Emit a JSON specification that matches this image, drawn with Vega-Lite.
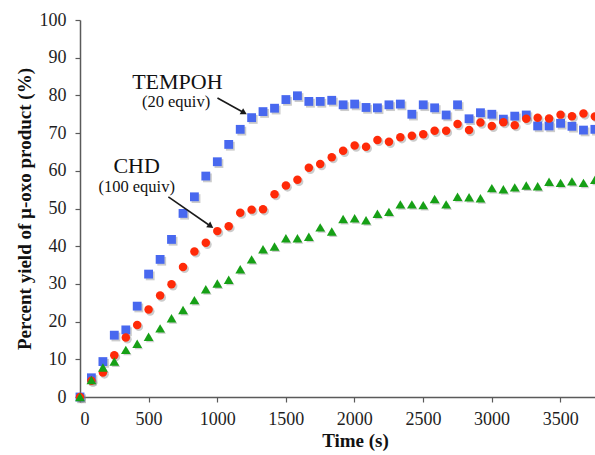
{
  "$schema": "https://vega.github.io/schema/vega-lite/v6.json",
  "width": 515,
  "height": 377,
  "autosize": {"type": "none"},
  "padding": {"left": 80, "top": 20, "right": 0, "bottom": 58},
  "background": "white",
  "config": {
    "view": {"stroke": null},
    "font": "Liberation Serif",
    "axis": {
      "grid": false,
      "domainColor": "#5a5a5a",
      "domainWidth": 1.5,
      "tickColor": "#5a5a5a",
      "tickWidth": 1.2,
      "tickSize": 5,
      "labelFont": "Liberation Serif",
      "labelFontSize": 18,
      "labelColor": "#1e1e1e",
      "titleFont": "Liberation Serif",
      "titleFontSize": 19,
      "titleFontWeight": "bold",
      "titleColor": "#111111"
    }
  },
  "datasets": {
    "kinetics": [
      {"time": 0, "TEMPOH": 0, "CHD": 0, "Blank": 0},
      {"time": 83, "TEMPOH": 5.1, "CHD": 4.3, "Blank": 4.5},
      {"time": 167, "TEMPOH": 9.4, "CHD": 6.5, "Blank": 7.8},
      {"time": 250, "TEMPOH": 16.4, "CHD": 11.1, "Blank": 9.4},
      {"time": 334, "TEMPOH": 17.8, "CHD": 15.8, "Blank": 12.5},
      {"time": 417, "TEMPOH": 24.1, "CHD": 19.1, "Blank": 14.1},
      {"time": 500, "TEMPOH": 32.6, "CHD": 23.2, "Blank": 16.0},
      {"time": 584, "TEMPOH": 36.5, "CHD": 26.9, "Blank": 18.2},
      {"time": 667, "TEMPOH": 41.8, "CHD": 29.9, "Blank": 20.9},
      {"time": 751, "TEMPOH": 48.7, "CHD": 34.5, "Blank": 23.1},
      {"time": 834, "TEMPOH": 53.1, "CHD": 38.6, "Blank": 25.7},
      {"time": 917, "TEMPOH": 58.6, "CHD": 40.9, "Blank": 28.6},
      {"time": 1001, "TEMPOH": 62.4, "CHD": 44.0, "Blank": 30.1},
      {"time": 1084, "TEMPOH": 67.0, "CHD": 45.3, "Blank": 31.1},
      {"time": 1168, "TEMPOH": 71.0, "CHD": 48.9, "Blank": 33.9},
      {"time": 1251, "TEMPOH": 74.1, "CHD": 49.7, "Blank": 36.5},
      {"time": 1334, "TEMPOH": 75.7, "CHD": 49.8, "Blank": 39.2},
      {"time": 1418, "TEMPOH": 76.6, "CHD": 53.8, "Blank": 39.9},
      {"time": 1501, "TEMPOH": 78.9, "CHD": 56.1, "Blank": 42.1},
      {"time": 1585, "TEMPOH": 79.9, "CHD": 57.6, "Blank": 42.1},
      {"time": 1668, "TEMPOH": 78.4, "CHD": 60.8, "Blank": 42.5},
      {"time": 1751, "TEMPOH": 78.4, "CHD": 61.8, "Blank": 45.0},
      {"time": 1835, "TEMPOH": 78.7, "CHD": 63.6, "Blank": 43.9},
      {"time": 1918, "TEMPOH": 77.5, "CHD": 65.3, "Blank": 47.2},
      {"time": 2002, "TEMPOH": 77.7, "CHD": 66.7, "Blank": 47.4},
      {"time": 2085, "TEMPOH": 76.8, "CHD": 66.4, "Blank": 46.9},
      {"time": 2168, "TEMPOH": 76.7, "CHD": 68.2, "Blank": 48.6},
      {"time": 2252, "TEMPOH": 77.5, "CHD": 67.7, "Blank": 49.1},
      {"time": 2335, "TEMPOH": 77.7, "CHD": 68.9, "Blank": 51.1},
      {"time": 2419, "TEMPOH": 75.0, "CHD": 69.3, "Blank": 51.1},
      {"time": 2502, "TEMPOH": 77.5, "CHD": 69.7, "Blank": 50.9},
      {"time": 2585, "TEMPOH": 76.7, "CHD": 70.6, "Blank": 52.5},
      {"time": 2669, "TEMPOH": 74.8, "CHD": 70.6, "Blank": 51.1},
      {"time": 2752, "TEMPOH": 77.5, "CHD": 72.4, "Blank": 53.1},
      {"time": 2836, "TEMPOH": 73.8, "CHD": 70.8, "Blank": 53.0},
      {"time": 2919, "TEMPOH": 75.4, "CHD": 72.8, "Blank": 52.7},
      {"time": 3002, "TEMPOH": 75.0, "CHD": 71.9, "Blank": 55.4},
      {"time": 3086, "TEMPOH": 73.7, "CHD": 72.9, "Blank": 55.1},
      {"time": 3169, "TEMPOH": 74.5, "CHD": 72.1, "Blank": 55.6},
      {"time": 3253, "TEMPOH": 74.8, "CHD": 73.8, "Blank": 56.1},
      {"time": 3336, "TEMPOH": 71.9, "CHD": 74.1, "Blank": 55.9},
      {"time": 3419, "TEMPOH": 71.9, "CHD": 73.9, "Blank": 57.1},
      {"time": 3503, "TEMPOH": 72.6, "CHD": 74.9, "Blank": 56.8},
      {"time": 3586, "TEMPOH": 71.8, "CHD": 74.5, "Blank": 57.2},
      {"time": 3670, "TEMPOH": 70.8, "CHD": 75.2, "Blank": 56.8},
      {"time": 3753, "TEMPOH": 71.0, "CHD": 74.4, "Blank": 57.6}
    ],
    "arrows": [
      {"label": "TEMPOH", "t0": 1002, "v0": 79.3, "t1": 1196, "v1": 75.4},
      {"label": "CHD", "t0": 644, "v0": 53.1, "t1": 953, "v1": 45.3}
    ],
    "names": [
      {"label": "TEMPOH", "time": 710, "pct": 81.8},
      {"label": "CHD", "time": 413, "pct": 59.4}
    ],
    "amounts": [
      {"label": "(20 equiv)", "time": 700, "pct": 76.8},
      {"label": "(100 equiv)", "time": 413, "pct": 54.3}
    ]
  },
  "layer": [
    {
      "data": {"name": "kinetics"},
      "transform": [{"fold": ["TEMPOH", "CHD", "Blank"], "as": ["series", "pct"]}],
      "mark": {"type": "point", "filled": true, "color": "#808080", "opacity": 0.4, "xOffset": 1.6, "yOffset": 1.8},
      "encoding": {
        "x": {"field": "time", "type": "quantitative", "title": "Time (s)",
              "scale": {"domain": [0, 3754], "nice": false, "zero": false},
              "axis": {"values": [0, 500, 1000, 1500, 2000, 2500, 3000, 3500], "format": "d", "labelFont": "Liberation Serif", "labelPadding": 8, "titleX": 275, "titleY": 49, "titleBaseline": "alphabetic"}},
        "y": {"field": "pct", "type": "quantitative", "title": "Percent yield of µ-oxo product (%)",
              "scale": {"domain": [0, 100], "nice": false},
              "axis": {"values": [0, 10, 20, 30, 40, 50, 60, 70, 80, 90, 100], "format": "d", "labelFont": "Liberation Serif", "labelPadding": 9, "titleX": -50, "titleBaseline": "alphabetic"}},
        "shape": {"field": "series", "type": "nominal", "legend": null,
                  "scale": {"domain": ["TEMPOH", "CHD", "Blank"], "range": ["square", "circle", "triangle-up"]}},
        "size": {"field": "series", "type": "ordinal", "legend": null,
                 "scale": {"domain": ["TEMPOH", "CHD", "Blank"], "range": [78, 72, 95]}}
      }
    },
    {
      "data": {"name": "kinetics"},
      "transform": [{"fold": ["TEMPOH"], "as": ["series", "pct"]}],
      "mark": {"type": "point", "shape": "square", "filled": true, "color": "#4868ef", "opacity": 1, "size": 78},
      "encoding": {
        "x": {"field": "time", "type": "quantitative", "title": "Time (s)",
              "axis": {"values": [0, 500, 1000, 1500, 2000, 2500, 3000, 3500], "format": "d", "labelFont": "Liberation Serif", "labelPadding": 8, "titleX": 275, "titleY": 49, "titleBaseline": "alphabetic"}},
        "y": {"field": "pct", "type": "quantitative", "title": "Percent yield of µ-oxo product (%)",
              "axis": {"values": [0, 10, 20, 30, 40, 50, 60, 70, 80, 90, 100], "format": "d", "labelFont": "Liberation Serif", "labelPadding": 9, "titleX": -50, "titleBaseline": "alphabetic"}}
      }
    },
    {
      "data": {"name": "kinetics"},
      "transform": [{"fold": ["CHD"], "as": ["series", "pct"]}],
      "mark": {"type": "point", "shape": "circle", "filled": true, "color": "#ff2a08", "opacity": 1, "size": 72},
      "encoding": {
        "x": {"field": "time", "type": "quantitative", "title": "Time (s)",
              "axis": {"values": [0, 500, 1000, 1500, 2000, 2500, 3000, 3500], "format": "d", "labelFont": "Liberation Serif", "labelPadding": 8, "titleX": 275, "titleY": 49, "titleBaseline": "alphabetic"}},
        "y": {"field": "pct", "type": "quantitative", "title": "Percent yield of µ-oxo product (%)",
              "axis": {"values": [0, 10, 20, 30, 40, 50, 60, 70, 80, 90, 100], "format": "d", "labelFont": "Liberation Serif", "labelPadding": 9, "titleX": -50, "titleBaseline": "alphabetic"}}
      }
    },
    {
      "data": {"name": "kinetics"},
      "transform": [{"fold": ["Blank"], "as": ["series", "pct"]}],
      "mark": {"type": "point", "shape": "triangle-up", "filled": true, "color": "#16a016", "opacity": 1, "size": 95},
      "encoding": {
        "x": {"field": "time", "type": "quantitative", "title": "Time (s)",
              "axis": {"values": [0, 500, 1000, 1500, 2000, 2500, 3000, 3500], "format": "d", "labelFont": "Liberation Serif", "labelPadding": 8, "titleX": 275, "titleY": 49, "titleBaseline": "alphabetic"}},
        "y": {"field": "pct", "type": "quantitative", "title": "Percent yield of µ-oxo product (%)",
              "axis": {"values": [0, 10, 20, 30, 40, 50, 60, 70, 80, 90, 100], "format": "d", "labelFont": "Liberation Serif", "labelPadding": 9, "titleX": -50, "titleBaseline": "alphabetic"}}
      }
    },
    {
      "data": {"name": "arrows"},
      "mark": {"type": "rule", "color": "#1a1a1a", "strokeWidth": 1.6},
      "encoding": {
        "x": {"field": "t0", "type": "quantitative", "title": "Time (s)",
              "axis": {"values": [0, 500, 1000, 1500, 2000, 2500, 3000, 3500], "format": "d", "labelFont": "Liberation Serif", "labelPadding": 8, "titleX": 275, "titleY": 49, "titleBaseline": "alphabetic"}},
        "y": {"field": "v0", "type": "quantitative", "title": "Percent yield of µ-oxo product (%)",
              "axis": {"values": [0, 10, 20, 30, 40, 50, 60, 70, 80, 90, 100], "format": "d", "labelFont": "Liberation Serif", "labelPadding": 9, "titleX": -50, "titleBaseline": "alphabetic"}},
        "x2": {"field": "t1"},
        "y2": {"field": "v1"}
      }
    },
    {
      "data": {"name": "arrows"},
      "transform": [{"filter": "datum.label === 'TEMPOH'"}],
      "mark": {"type": "point", "shape": "triangle-right", "filled": true, "color": "#1a1a1a", "opacity": 1, "size": 50, "angle": 29},
      "encoding": {
        "x": {"field": "t1", "type": "quantitative", "title": "Time (s)",
              "axis": {"values": [0, 500, 1000, 1500, 2000, 2500, 3000, 3500], "format": "d", "labelFont": "Liberation Serif", "labelPadding": 8, "titleX": 275, "titleY": 49, "titleBaseline": "alphabetic"}},
        "y": {"field": "v1", "type": "quantitative", "title": "Percent yield of µ-oxo product (%)",
              "axis": {"values": [0, 10, 20, 30, 40, 50, 60, 70, 80, 90, 100], "format": "d", "labelFont": "Liberation Serif", "labelPadding": 9, "titleX": -50, "titleBaseline": "alphabetic"}}
      }
    },
    {
      "data": {"name": "arrows"},
      "transform": [{"filter": "datum.label === 'CHD'"}],
      "mark": {"type": "point", "shape": "triangle-right", "filled": true, "color": "#1a1a1a", "opacity": 1, "size": 50, "angle": 35},
      "encoding": {
        "x": {"field": "t1", "type": "quantitative", "title": "Time (s)",
              "axis": {"values": [0, 500, 1000, 1500, 2000, 2500, 3000, 3500], "format": "d", "labelFont": "Liberation Serif", "labelPadding": 8, "titleX": 275, "titleY": 49, "titleBaseline": "alphabetic"}},
        "y": {"field": "v1", "type": "quantitative", "title": "Percent yield of µ-oxo product (%)",
              "axis": {"values": [0, 10, 20, 30, 40, 50, 60, 70, 80, 90, 100], "format": "d", "labelFont": "Liberation Serif", "labelPadding": 9, "titleX": -50, "titleBaseline": "alphabetic"}}
      }
    },
    {
      "data": {"name": "names"},
      "mark": {"type": "text", "font": "Liberation Serif", "fontSize": 22, "color": "#111111", "align": "center", "baseline": "alphabetic"},
      "encoding": {
        "x": {"field": "time", "type": "quantitative", "title": "Time (s)",
              "axis": {"values": [0, 500, 1000, 1500, 2000, 2500, 3000, 3500], "format": "d", "labelFont": "Liberation Serif", "labelPadding": 8, "titleX": 275, "titleY": 49, "titleBaseline": "alphabetic"}},
        "y": {"field": "pct", "type": "quantitative", "title": "Percent yield of µ-oxo product (%)",
              "axis": {"values": [0, 10, 20, 30, 40, 50, 60, 70, 80, 90, 100], "format": "d", "labelFont": "Liberation Serif", "labelPadding": 9, "titleX": -50, "titleBaseline": "alphabetic"}},
        "text": {"field": "label"}
      }
    },
    {
      "data": {"name": "amounts"},
      "mark": {"type": "text", "font": "Liberation Serif", "fontSize": 16.5, "color": "#111111", "align": "center", "baseline": "alphabetic"},
      "encoding": {
        "x": {"field": "time", "type": "quantitative", "title": "Time (s)",
              "axis": {"values": [0, 500, 1000, 1500, 2000, 2500, 3000, 3500], "format": "d", "labelFont": "Liberation Serif", "labelPadding": 8, "titleX": 275, "titleY": 49, "titleBaseline": "alphabetic"}},
        "y": {"field": "pct", "type": "quantitative", "title": "Percent yield of µ-oxo product (%)",
              "axis": {"values": [0, 10, 20, 30, 40, 50, 60, 70, 80, 90, 100], "format": "d", "labelFont": "Liberation Serif", "labelPadding": 9, "titleX": -50, "titleBaseline": "alphabetic"}},
        "text": {"field": "label"}
      }
    }
  ]
}
